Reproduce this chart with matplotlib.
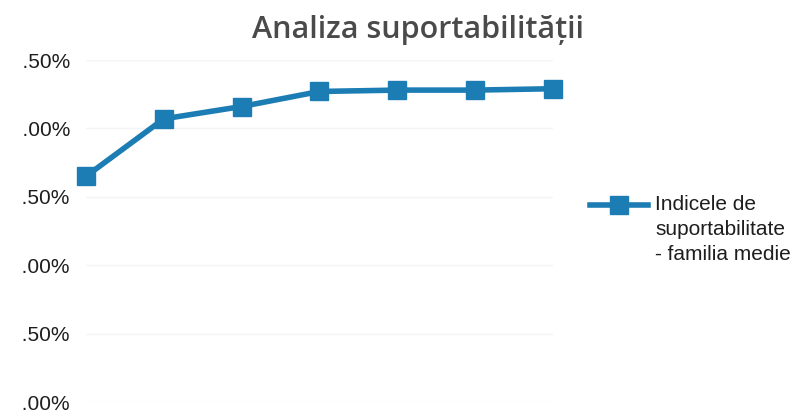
import matplotlib
matplotlib.use('Agg')
import matplotlib.pyplot as plt
import matplotlib.ticker as mtick
from matplotlib.lines import Line2D
from matplotlib.transforms import Bbox

# affordability index per period (in %)
periods = [1, 2, 3, 4, 5, 6, 7]
indice = [1.65, 2.07, 2.16, 2.27, 2.28, 2.28, 2.29]
y_ticks = [0.0, 0.5, 1.0, 1.5, 2.0, 2.5]
series_label = 'Indicele de\nsuportabilitate\n- familia medie'
title = 'Analiza suportabilității'

W, H = 803, 412
blue = '#1b7db4'
txt = '#1e1e1e'

plt.rcParams['font.family'] = ['Liberation Sans', 'DejaVu Sans']

fig = plt.figure(figsize=(W / 100, H / 100), dpi=100)
# plot area in pixels: x 86..553, y 60..402 (from top)
ax = fig.add_axes([86 / W, (H - 402) / H, (553 - 86) / W, (402 - 60) / H])

x = list(range(len(periods)))
ax.plot(x, indice, color=blue, linewidth=4, marker='s', markersize=13,
        markerfacecolor=blue, markeredgecolor=blue, clip_on=False)

ax.set_xlim(0, len(periods) - 1)
ax.set_ylim(0, 2.5)
ax.set_yticks(y_ticks)
ax.yaxis.set_major_formatter(mtick.StrMethodFormatter('{x:.2f}%'))
ax.set_xticks([])
ax.tick_params(axis='y', length=0, pad=11.5, labelsize=15, labelcolor=txt)
ax.grid(axis='y', color='#f3f4f7', linewidth=1)
for s in ax.spines.values():
    s.set_visible(False)

# the scan cuts off the leading digit of each axis label
clip = Bbox.from_extents(23, 0, W, H)
for lab in ax.get_yticklabels():
    lab.set_clip_on(True)
    lab.set_clip_box(clip)

fig.text(418 / W, (H - 38) / H, title, ha='center', va='baseline',
         fontsize=22, color='#4a4a4a', fontweight='semibold',
         family=['Open Sans', 'DejaVu Sans'])

# legend: handle lines up with the first text line
ly = (H - 205) / H
fig.add_artist(Line2D([590 / W, 648 / W], [ly, ly], transform=fig.transFigure,
                      color=blue, linewidth=4))
fig.add_artist(Line2D([619 / W], [ly], transform=fig.transFigure, marker='s',
                      markersize=13, color=blue))
fig.text(655 / W, (H - 195) / H, series_label, ha='left', va='top',
         fontsize=15, color=txt, linespacing=1.4)

fig.savefig('out.png', dpi=100)
